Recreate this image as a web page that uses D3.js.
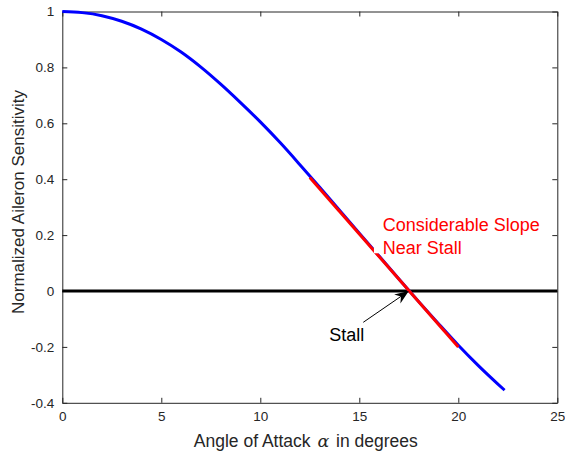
<!DOCTYPE html>
<html>
<head>
<meta charset="utf-8">
<script src="https://cdn.jsdelivr.net/npm/d3@7"></script>
<style>
  html, body { margin: 0; padding: 0; background: #fff; }
  svg { display: block; }
  text { font-family: "Liberation Sans", Arial, Helvetica, sans-serif; }
</style>
</head>
<body>
<div id="chart"></div>
<script>
// Normalized aileron sensitivity versus angle of attack
const alphaDeg = [0, 1, 2, 3, 4, 5, 6, 7, 8, 9, 10, 11, 12, 13, 14, 15, 16, 17, 18, 19, 20, 21, 22, 22.34];
const sensitivity = [1.000, 0.996, 0.985, 0.965, 0.937, 0.900, 0.855, 0.801, 0.740, 0.674, 0.605, 0.531, 0.452,
                     0.371, 0.289, 0.207, 0.125, 0.043, -0.038, -0.117, -0.194, -0.266, -0.333, -0.355];

// Tangent line drawn near stall
const slopeAlpha = [12.5, 20];
const slopeValue = [0.406, -0.200];

// Stall point
const stallAlpha = 17.5;
const stallValue = 0;

// Axis ticks
const xTicks = [0, 5, 10, 15, 20, 25];
const yTicks = [-0.4, -0.2, 0, 0.2, 0.4, 0.6, 0.8, 1];
const yTickLabels = ["-0.4", "-0.2", "0", "0.2", "0.4", "0.6", "0.8", "1"];

const W = 565, H = 452;
const plot = { left: 62.3, right: 557.3, top: 11.5, bottom: 402.8 };
const axisColor = "#262626";

const svg = d3.select("#chart").append("svg")
  .attr("width", W).attr("height", H);
svg.append("rect").attr("width", W).attr("height", H).attr("fill", "#fff");

const x = d3.scaleLinear().domain([0, 25]).range([plot.left, plot.right]);
const y = d3.scaleLinear().domain([-0.4, 1]).range([plot.bottom, plot.top]);

const tickLen = 5;

// Bottom axis (ticks point inward)
const gx = svg.append("g")
  .attr("transform", `translate(0,${plot.bottom})`)
  .call(d3.axisBottom(x).tickValues(xTicks).tickSizeInner(-tickLen).tickSizeOuter(0).tickPadding(10)
    .tickFormat(d3.format("d")));
// Top axis ticks
const gxt = svg.append("g")
  .attr("transform", `translate(0,${plot.top})`)
  .call(d3.axisTop(x).tickValues(xTicks).tickSizeInner(-tickLen).tickSizeOuter(0).tickFormat(""));
// Left axis
const gy = svg.append("g")
  .attr("transform", `translate(${plot.left},0)`)
  .call(d3.axisLeft(y).tickValues(yTicks).tickSizeInner(-tickLen).tickSizeOuter(0).tickPadding(8)
    .tickFormat((d, i) => yTickLabels[i]));
// Right axis ticks
const gyr = svg.append("g")
  .attr("transform", `translate(${plot.right},0)`)
  .call(d3.axisRight(y).tickValues(yTicks).tickSizeInner(-tickLen).tickSizeOuter(0).tickFormat(""));

[gx, gxt, gy, gyr].forEach(g => {
  g.select(".domain").attr("stroke", axisColor).attr("stroke-width", 1);
  g.selectAll(".tick line").attr("stroke", axisColor).attr("stroke-width", 1);
  g.selectAll(".tick text")
    .attr("fill", axisColor)
    .style("font-family", '"Liberation Sans", Arial, sans-serif')
    .style("font-size", "13.5px");
});
gx.selectAll(".tick text").attr("dy", "0.71em").attr("y", 9);
gy.selectAll(".tick text").attr("x", -8);

// Zero reference line
svg.append("line")
  .attr("x1", x(0)).attr("x2", x(25))
  .attr("y1", y(0)).attr("y2", y(0))
  .attr("stroke", "#000").attr("stroke-width", 3);

// Sensitivity curve
const curvePts = alphaDeg.map((a, i) => [a, sensitivity[i]]);
svg.append("path")
  .datum(curvePts)
  .attr("fill", "none")
  .attr("stroke", "#0000ff")
  .attr("stroke-width", 3)
  .attr("d", d3.line().x(d => x(d[0])).y(d => y(d[1])).curve(d3.curveMonotoneX));

// Slope line near stall
const slopePts = slopeAlpha.map((a, i) => [a, slopeValue[i]]);
svg.append("path")
  .datum(slopePts)
  .attr("fill", "none")
  .attr("stroke", "#ff0000")
  .attr("stroke-width", 3)
  .attr("d", d3.line().x(d => x(d[0])).y(d => y(d[1])));

// Annotation text box (white background)
const boxX = x(15.74), boxY = y(0.285);
svg.append("rect")
  .attr("x", boxX).attr("y", boxY)
  .attr("width", plot.right - 10 - boxX).attr("height", y(0.135) - boxY)
  .attr("fill", "#fff");

const noteX = x(16.18);
svg.append("text")
  .attr("x", noteX).attr("y", y(0.216))
  .attr("fill", "#ff0000").style("font-size", "18px")
  .text("Considerable Slope");
svg.append("text")
  .attr("x", noteX).attr("y", y(0.133))
  .attr("fill", "#ff0000").style("font-size", "18px")
  .text("Near Stall");

// Stall arrow
const tail = [x(15.2), y(-0.112)];
const tip = [x(stallAlpha), y(stallValue)];
const ang = Math.atan2(tip[1] - tail[1], tip[0] - tail[0]);
const headLen = 14, headW = 5.5, back = 4.5;
const ux = Math.cos(ang), uy = Math.sin(ang);
const px = -uy, py = ux;
const baseC = [tip[0] - ux * headLen, tip[1] - uy * headLen];
const notch = [tip[0] - ux * (headLen - back), tip[1] - uy * (headLen - back)];
svg.append("line")
  .attr("x1", tail[0]).attr("y1", tail[1])
  .attr("x2", notch[0]).attr("y2", notch[1])
  .attr("stroke", "#000").attr("stroke-width", 1);
svg.append("path")
  .attr("d", d3.line()([
    tip,
    [baseC[0] + px * headW, baseC[1] + py * headW],
    notch,
    [baseC[0] - px * headW, baseC[1] - py * headW]
  ]) + "Z")
  .attr("fill", "#000");

svg.append("text")
  .attr("x", x(13.48)).attr("y", y(-0.18))
  .attr("fill", "#000").style("font-size", "18px")
  .text("Stall");

// Axis labels
const xLabel = svg.append("text")
  .attr("x", (plot.left + plot.right) / 2 - 4)
  .attr("y", 446.7)
  .attr("text-anchor", "middle")
  .attr("fill", axisColor)
  .style("font-size", "17.5px");
xLabel.append("tspan").text("Angle of Attack ");
xLabel.append("tspan")
  .attr("dx", 2)
  .style("font-family", '"DejaVu Serif", "Liberation Serif", serif')
  .style("font-style", "italic")
  .text("α");
xLabel.append("tspan").attr("dx", 2).text(" in degrees");

svg.append("text")
  .attr("transform", `translate(23.5,202) rotate(-90)`)
  .attr("text-anchor", "middle")
  .attr("fill", axisColor)
  .style("font-size", "17px")
  .text("Normalized Aileron Sensitivity");
</script>
</body>
</html>
